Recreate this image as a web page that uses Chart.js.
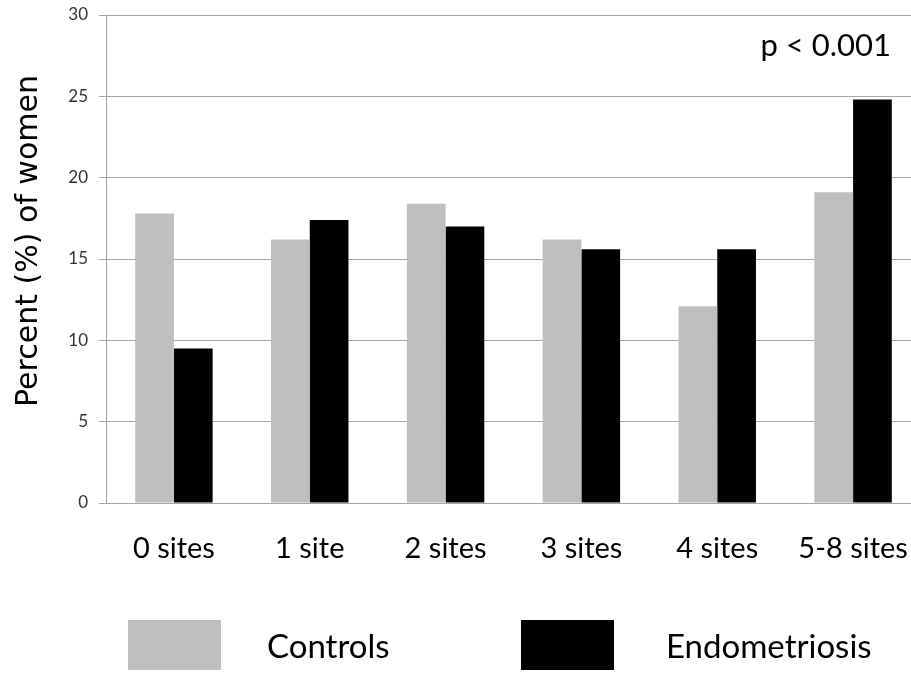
<!DOCTYPE html>
<html>
<head>
<meta charset="utf-8">
<script src="https://cdn.jsdelivr.net/npm/chart.js@4.4.0/dist/chart.umd.min.js"></script>
<style>
  html, body { margin: 0; padding: 0; background: #fff; overflow: hidden; }
  #wrap { width: 911px; height: 673px; overflow: hidden; }
</style>
</head>
<body>
<div id="wrap"><canvas id="chart" width="925" height="673"></canvas></div>
<script>
// datos
const categorias = ['0 sites', '1 site', '2 sites', '3 sites', '4 sites', '5-8 sites'];
const controles = [17.8, 16.2, 18.4, 16.2, 12.1, 19.1];
const endometriosis = [9.5, 17.4, 17.0, 15.6, 15.6, 24.8];
const ticksY = [0, 5, 10, 15, 20, 25, 30];
const tituloY = 'Percent (%) of women';
const notaP = 'p < 0.001';

const fuente = 'Lato, "Open Sans", sans-serif';

// textos extra y leyenda dibujados a mano
const extras = {
    id: 'extras',
    afterDraw(chart) {
        const ctx = chart.ctx;
        ctx.save();

        // titulo del eje Y
        ctx.fillStyle = '#000';
        ctx.font = '30px "DejaVu Sans", sans-serif';
        ctx.textAlign = 'center';
        ctx.textBaseline = 'alphabetic';
        ctx.translate(37, 241);
        ctx.rotate(-Math.PI / 2);
        ctx.fillText(tituloY, 0, 0);
        ctx.restore();

        // p valor
        ctx.save();
        ctx.fillStyle = '#000';
        ctx.font = '31px ' + fuente;
        ctx.textAlign = 'right';
        ctx.textBaseline = 'alphabetic';
        ctx.fillText(notaP, 891, 56);

        // leyenda
        const items = [
            { x: 128, tx: 267 },
            { x: 521, tx: 666 }
        ];
        ctx.font = '33px ' + fuente;
        ctx.textAlign = 'left';
        ctx.textBaseline = 'middle';
        chart.data.datasets.forEach((ds, i) => {
            const it = items[i];
            ctx.fillStyle = ds.backgroundColor;
            ctx.fillRect(it.x, 620, 93, 50);
            ctx.fillStyle = '#000';
            ctx.fillText(ds.label, it.tx, 647);
        });
        ctx.restore();
    }
};

new Chart(document.getElementById('chart'), {
    type: 'bar',
    data: {
        labels: categorias,
        datasets: [
            {
                label: 'Controls',
                data: controles,
                backgroundColor: '#bfbfbf',
                borderWidth: 0,
                categoryPercentage: 0.57,
                barPercentage: 1.0
            },
            {
                label: 'Endometriosis',
                data: endometriosis,
                backgroundColor: '#000000',
                borderWidth: 0,
                categoryPercentage: 0.57,
                barPercentage: 1.0
            }
        ]
    },
    options: {
        responsive: false,
        devicePixelRatio: 1,
        animation: false,
        layout: {
            padding: { top: 15, right: 4, left: 0, bottom: 0 }
        },
        plugins: {
            legend: { display: false },
            tooltip: { enabled: false }
        },
        scales: {
            y: {
                min: 0,
                max: 30,
                afterBuildTicks: (s) => { s.ticks = ticksY.map(v => ({ value: v })); },
                afterFit: (s) => {
                    s.width = 106;
                    s.paddingTop = 0;
                    s.paddingBottom = 0;
                },
                ticks: {
                    color: '#333333',
                    font: { family: fuente, size: 17 },
                    padding: 11
                },
                grid: {
                    color: '#a6a6a6',
                    lineWidth: 1,
                    drawTicks: true,
                    tickLength: 7
                },
                border: { color: '#a6a6a6', width: 1 }
            },
            x: {
                afterFit: (s) => {
                    s.height = 170;
                    s.paddingLeft = 0;
                    s.paddingRight = 0;
                },
                ticks: {
                    color: '#000',
                    font: { family: fuente, size: 29 },
                    maxRotation: 0,
                    autoSkip: false,
                    padding: 28
                },
                grid: { display: false, drawTicks: false },
                border: { color: '#a6a6a6', width: 1 }
            }
        }
    },
    plugins: [extras]
});
</script>
</body>
</html>
